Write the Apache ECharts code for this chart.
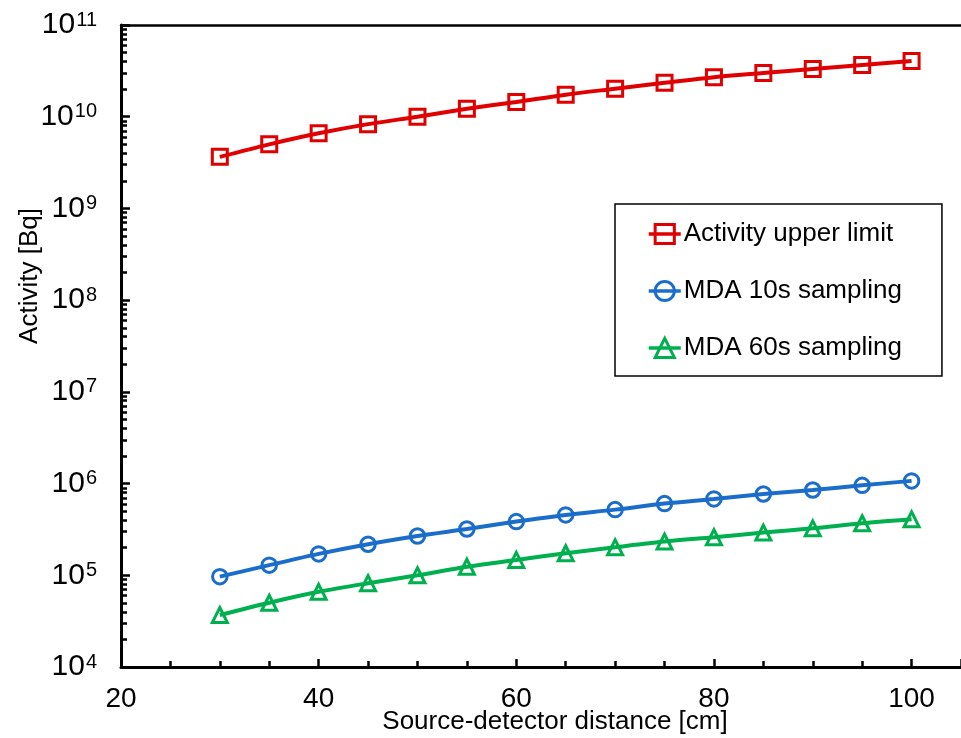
<!DOCTYPE html>
<html>
<head>
<meta charset="utf-8">
<script src="https://cdn.jsdelivr.net/npm/echarts@6/dist/echarts.min.js"></script>
<style>
  html, body { margin: 0; padding: 0; background: #fff; }
  #chart { width: 961px; height: 738px; }
</style>
</head>
<body>
<div id="chart"></div>
<script>
// Source-detector distance [cm]
const distances = [30, 35, 40, 45, 50, 55, 60, 65, 70, 75, 80, 85, 90, 95, 100];
// Activity [Bq]
const activityUpperLimit = [3.65e9, 5.0e9, 6.6e9, 8.3e9, 1.0e10, 1.22e10, 1.45e10, 1.74e10, 2.02e10, 2.34e10, 2.7e10, 3.0e10, 3.32e10, 3.67e10, 4.06e10];
const mda10s = [9.66e4, 1.29e5, 1.71e5, 2.18e5, 2.68e5, 3.2e5, 3.85e5, 4.55e5, 5.2e5, 6.05e5, 6.8e5, 7.7e5, 8.5e5, 9.57e5, 1.07e6];
const mda60s = [3.69e4, 5.02e4, 6.6e4, 8.2e4, 1.0e5, 1.24e5, 1.47e5, 1.74e5, 2.02e5, 2.33e5, 2.6e5, 2.92e5, 3.25e5, 3.69e5, 4.08e5];

const seriesNames = ['Activity upper limit', 'MDA 10s sampling', 'MDA 60s sampling'];
const xTitle = 'Source-detector distance [cm]';
const yTitle = 'Activity [Bq]';

// minor ticks of the log axis, placed at 2..9 within each decade (log10 units)
const yMinorTicks = [];
for (let n = 4; n < 11; n++) {
  for (let k = 2; k <= 9; k++) yMinorTicks.push(n + Math.log10(k));
}

const FONT = 'Liberation Sans, Arial, Helvetica, sans-serif';
const pairs = (ys) => distances.map((d, i) => [d, ys[i]]);

function lineSeries(name, ys, color, symbol, size) {
  return {
    name: name,
    type: 'line',
    data: pairs(ys),
    smooth: 0.3,
    symbol: symbol,
    symbolSize: size,
    lineStyle: { color: color, width: 4 },
    itemStyle: { color: 'none', borderColor: color, borderWidth: 3 },
    emphasis: { disabled: true }
  };
}

const chart = echarts.init(document.getElementById('chart'), null, { renderer: 'canvas' });
chart.setOption({
  animation: false,
  backgroundColor: '#fff',
  grid: { left: 121, top: 25, right: -4, bottom: 71, containLabel: false },
  xAxis: [{
    type: 'value',
    min: 20,
    max: 105,
    interval: 20,
    axisLine: { lineStyle: { color: '#000', width: 3 } },
    axisTick: { inside: true, length: 8, lineStyle: { color: '#000', width: 2.5 } },
    minorTick: { show: true, splitNumber: 4, length: 6, lineStyle: { color: '#000', width: 2.5 } },
    axisLabel: { color: '#000', fontSize: 28, fontFamily: FONT, margin: 18, showMaxLabel: false },
    splitLine: { show: false }
  }, {
    type: 'value',
    position: 'top',
    min: 20,
    max: 105,
    axisLine: { show: true, onZero: false, lineStyle: { color: '#000', width: 2.5 } },
    axisTick: { show: false },
    axisLabel: { show: false },
    splitLine: { show: false }
  }],
  yAxis: [{
    type: 'log',
    logBase: 10,
    min: 1e4,
    max: 1e11,
    axisLine: { show: true, lineStyle: { color: '#000', width: 3 } },
    axisTick: { inside: true, length: 9, lineStyle: { color: '#000', width: 2.5 } },
    axisLabel: {
      color: '#000',
      fontFamily: FONT,
      fontSize: 30,
      margin: 24,
      formatter: (v) => '10{sup|' + Math.round(Math.log10(v)) + '}',
      rich: {
        sup: { fontSize: 20, fontFamily: FONT, color: '#000', verticalAlign: 'top', padding: [0, 0, 0, 1] }
      }
    },
    splitLine: { show: false }
  }, {
    type: 'value',
    position: 'left',
    min: 4,
    max: 11,
    axisLine: { show: false },
    axisTick: { show: true, inside: true, length: 6, customValues: yMinorTicks, lineStyle: { color: '#000', width: 2.5 } },
    axisLabel: { show: false },
    splitLine: { show: false }
  }],
  legend: {
    left: 615,
    top: 204,
    orient: 'vertical',
    data: seriesNames,
    itemWidth: 32,
    itemHeight: 24,
    itemGap: 31,
    padding: [17, 40, 15, 32],
    borderColor: '#000',
    borderWidth: 1.5,
    backgroundColor: '#fff',
    selectedMode: false,
    lineStyle: { width: 3.5 },
    itemStyle: { borderWidth: 3 },
    textStyle: { color: '#000', fontSize: 26, fontFamily: FONT, lineHeight: 26, padding: [0, 0, 0, -2] }
  },
  graphic: [{
    type: 'text',
    position: [555, 722],
    style: { text: xTitle, font: '26px ' + FONT, fill: '#000', textAlign: 'center', textVerticalAlign: 'middle' }
  }, {
    type: 'text',
    rotation: Math.PI / 2,
    position: [30, 276],
    style: { text: yTitle, font: '26px ' + FONT, fill: '#000', textAlign: 'center', textVerticalAlign: 'middle' }
  }],
  series: [
    lineSeries(seriesNames[0], activityUpperLimit, '#E00000', 'rect', 15),
    lineSeries(seriesNames[1], mda10s, '#1B6DCB', 'circle', 14.5),
    lineSeries(seriesNames[2], mda60s, '#00B04F', 'triangle', 15)
  ]
});
</script>
</body>
</html>
